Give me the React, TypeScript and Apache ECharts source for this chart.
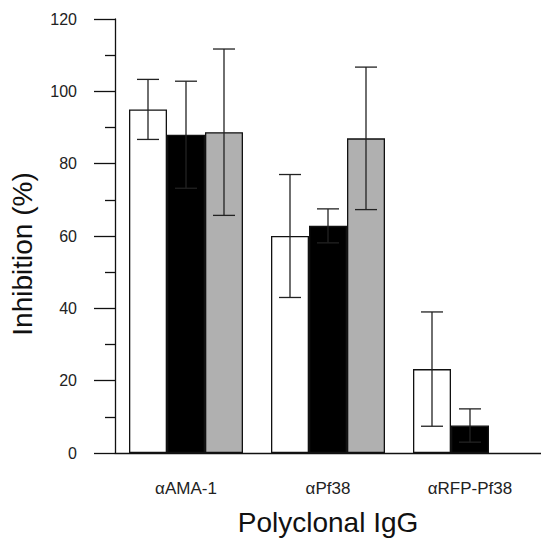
import React, { useEffect, useRef } from "react";
import * as echarts from "echarts";

const categories = ["αAMA-1", "αPf38", "αRFP-Pf38"];
const whiteMean = [95, 60, 23.2];
const whiteErr = [8.3, 17, 15.8];
const blackMean = [88, 62.8, 7.6];
const blackErr = [14.8, 4.7, 4.6];
const grayMean: (number | null)[] = [88.7, 87, null];
const grayErr: (number | null)[] = [23, 19.7, null];
const yTicks = [0, 20, 40, 60, 80, 100, 120];

const BAR_W = 38;

function errSeries(means: (number | null)[], errs: (number | null)[], offset: number) {
  const data = means
    .map((m, i) => (m == null || errs[i] == null ? null : [i, m, errs[i]]))
    .filter((d) => d != null);
  return {
    type: "custom",
    z: 5,
    data,
    renderItem: (params: any, api: any) => {
      const i = api.value(0);
      const m = api.value(1);
      const e = api.value(2);
      const top = api.coord([i, m + e]);
      const bot = api.coord([i, m - e]);
      const x = top[0] + offset;
      const cap = 11;
      const style = { stroke: "#222", lineWidth: 1.3 };
      return {
        type: "group",
        children: [
          { type: "line", shape: { x1: x, y1: top[1], x2: x, y2: bot[1] }, style },
          { type: "line", shape: { x1: x - cap, y1: top[1], x2: x + cap, y2: top[1] }, style },
          { type: "line", shape: { x1: x - cap, y1: bot[1], x2: x + cap, y2: bot[1] }, style },
        ],
      };
    },
  };
}

export default function App() {
  const ref = useRef<HTMLDivElement>(null);
  useEffect(() => {
    document.body.style.margin = "0";
    document.body.style.overflow = "hidden";
    document.documentElement.style.overflow = "hidden";
    const chart = echarts.init(ref.current!, undefined, { renderer: "svg" });
    const font = "Liberation Sans, Arial, sans-serif";
    chart.setOption({
      animation: false,
      backgroundColor: "#fff",
      grid: { left: 115, top: 19, width: 429, height: 434, containLabel: false },
      xAxis: {
        type: "category",
        data: categories,
        axisTick: { show: false },
        axisLine: { lineStyle: { color: "#111", width: 1.3 } },
        axisLabel: { color: "#222", fontSize: 17, fontFamily: font, margin: 27 },
        name: "Polyclonal IgG",
        nameLocation: "middle",
        nameGap: 55,
        nameTextStyle: { color: "#111", fontSize: 28, fontFamily: font },
      },
      yAxis: {
        type: "value",
        min: yTicks[0],
        max: yTicks[yTicks.length - 1],
        interval: 20,
        splitLine: { show: false },
        axisLine: { show: true, lineStyle: { color: "#111", width: 1.3 } },
        axisTick: { show: true, length: 21, lineStyle: { color: "#111", width: 1.3 } },
        minorTick: { show: true, splitNumber: 2, length: 10, lineStyle: { color: "#111", width: 1.3 } },
        minorSplitLine: { show: false },
        axisLabel: { color: "#222", fontSize: 16, fontFamily: font, margin: 38 },
      },
      graphic: [
        {
          type: "text",
          x: 22,
          y: 254,
          rotation: Math.PI / 2,
          style: {
            text: "Inhibition (%)",
            fontSize: 28,
            fontFamily: font,
            fill: "#111",
            textAlign: "center",
            textVerticalAlign: "middle",
          },
        },
      ],
      series: [
        {
          type: "bar",
          data: whiteMean,
          barWidth: BAR_W,
          barGap: "0%",
          itemStyle: { color: "#fff", borderColor: "#111", borderWidth: 1.3 },
        },
        {
          type: "bar",
          data: blackMean,
          barWidth: BAR_W,
          barGap: "0%",
          itemStyle: { color: "#000", borderColor: "#111", borderWidth: 1.3 },
        },
        {
          type: "bar",
          data: grayMean.map((v) => (v == null ? "-" : v)),
          barWidth: BAR_W,
          barGap: "0%",
          itemStyle: { color: "#b0b0b0", borderColor: "#111", borderWidth: 1.3 },
        },
        errSeries(whiteMean, whiteErr, -BAR_W),
        errSeries(blackMean, blackErr, 0),
        errSeries(grayMean, grayErr, BAR_W),
      ],
    });
    return () => chart.dispose();
  }, []);
  return <div ref={ref} style={{ width: 541, height: 541, overflow: "hidden" }} />;
}
